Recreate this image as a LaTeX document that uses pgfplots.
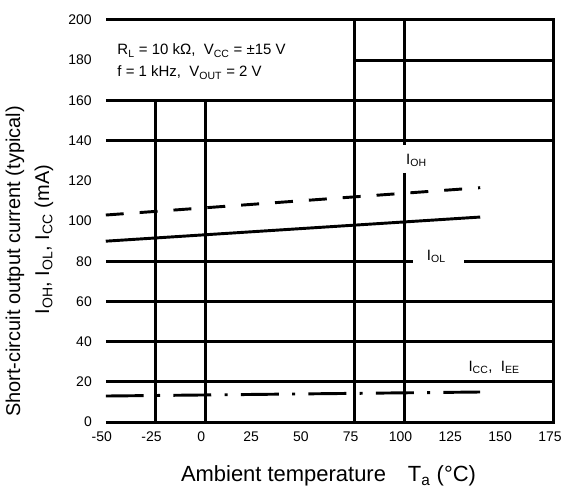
\documentclass[border=0pt]{standalone}
\usepackage{pgfplots}
\pgfplotsset{compat=1.18}
\usepackage{fontspec}
\setmainfont{Liberation Sans}
\begin{document}
\begin{tikzpicture}
\begin{axis}[
  name=ax,
  width=336.75pt, height=302.25pt, scale only axis,
  xmin=-50, xmax=175, ymin=0, ymax=200,
  axis line style={draw=none},
  xtick={-50,-25,0,25,50,75,100,125,150,175},
  ytick={0,20,40,60,80,100,120,140,160,180,200},
  major tick length=0pt, tick style={draw=none},
  /pgf/number format/assume math mode=true,
  ticklabel style={font=\fontsize{10.5}{12}\selectfont},
  yticklabel style={xshift=-7pt},
  xticklabel style={yshift=-4pt, xshift=-3pt},
  clip=false,
]
% frame (top, right, bottom)
\draw[line width=2.3pt] (axis cs:-50,0) -- (axis cs:175,0) -- (axis cs:175,200) -- (axis cs:-50,200);
% horizontal grid lines
\draw[line width=2.3pt] (axis cs:-50,160) -- (axis cs:175,160);
\draw[line width=2.3pt] (axis cs:-50,140) -- (axis cs:175,140);
\draw[line width=2.3pt] (axis cs:-50,80) -- (axis cs:104.3,80);
\draw[line width=2.3pt] (axis cs:130,80) -- (axis cs:175,80);
\draw[line width=2.3pt] (axis cs:-50,60) -- (axis cs:175,60);
\draw[line width=2.3pt] (axis cs:-50,40) -- (axis cs:175,40);
\draw[line width=2.3pt] (axis cs:-50,20) -- (axis cs:175,20);
\draw[line width=2.3pt] (axis cs:75,180) -- (axis cs:175,180);
% vertical grid lines
\draw[line width=2.3pt] (axis cs:-25,160) -- (axis cs:-25,0);
\draw[line width=2.3pt] (axis cs:0,160) -- (axis cs:0,0);
\draw[line width=2.3pt] (axis cs:75,200) -- (axis cs:75,0);
\draw[line width=2.3pt] (axis cs:100,200) -- (axis cs:100,138);
\draw[line width=2.3pt] (axis cs:100,124) -- (axis cs:100,0);
% series
\addplot[black, line width=2.2pt, dash pattern=on 13.5pt off 12pt] coordinates {(-50,103) (138,116.6)};
\addplot[black, line width=2.2pt] coordinates {(-50,90) (138,102)};
\addplot[black, line width=2.2pt, dash pattern=on 28.5pt off 10pt on 2.25pt off 10pt] coordinates {(-50,13) (138,15)};
% annotations
\node[anchor=base west, font=\fontsize{11.25}{13}\selectfont] at (axis cs:-46.5,182.6) {R$_\mathrm{L}$ = 10 kΩ,\ \ V$_\mathrm{CC}$ = ±15 V};
\node[anchor=base west, font=\fontsize{11.25}{13}\selectfont] at (axis cs:-46.5,171.7) {f = 1 kHz,\ \ V$_\mathrm{OUT}$ = 2 V};
\node[font=\fontsize{11.25}{13}\selectfont] at (axis cs:106,130) {I$_\mathrm{OH}$};
\node[font=\fontsize{11.25}{13}\selectfont] at (axis cs:116,82.4) {I$_\mathrm{OL}$};
\node[font=\fontsize{11.25}{13}\selectfont] at (axis cs:145,27.3) {I$_\mathrm{CC}$,\ \ I$_\mathrm{EE}$};
% axis labels
\node[font=\fontsize{16.5}{19}\selectfont] at (axis description cs:0.497,-0.134) {Ambient temperature\quad T$_\mathrm{a}$ (°C)};
\node[rotate=90, font=\fontsize{15}{18}\selectfont] at (axis description cs:-0.2027,0.3995) {Short-circuit output current (typical)};
\node[rotate=90, font=\fontsize{15}{18}\selectfont] at (axis description cs:-0.138,0.454) {I$_\mathrm{OH}$, I$_\mathrm{OL}$, I$_\mathrm{CC}$ (mA)};
\end{axis}
\path[use as bounding box] ([xshift=-79.5pt,yshift=-50.25pt]ax.south west) rectangle ([xshift=8.25pt,yshift=15pt]ax.north east);
\end{tikzpicture}
\end{document}
